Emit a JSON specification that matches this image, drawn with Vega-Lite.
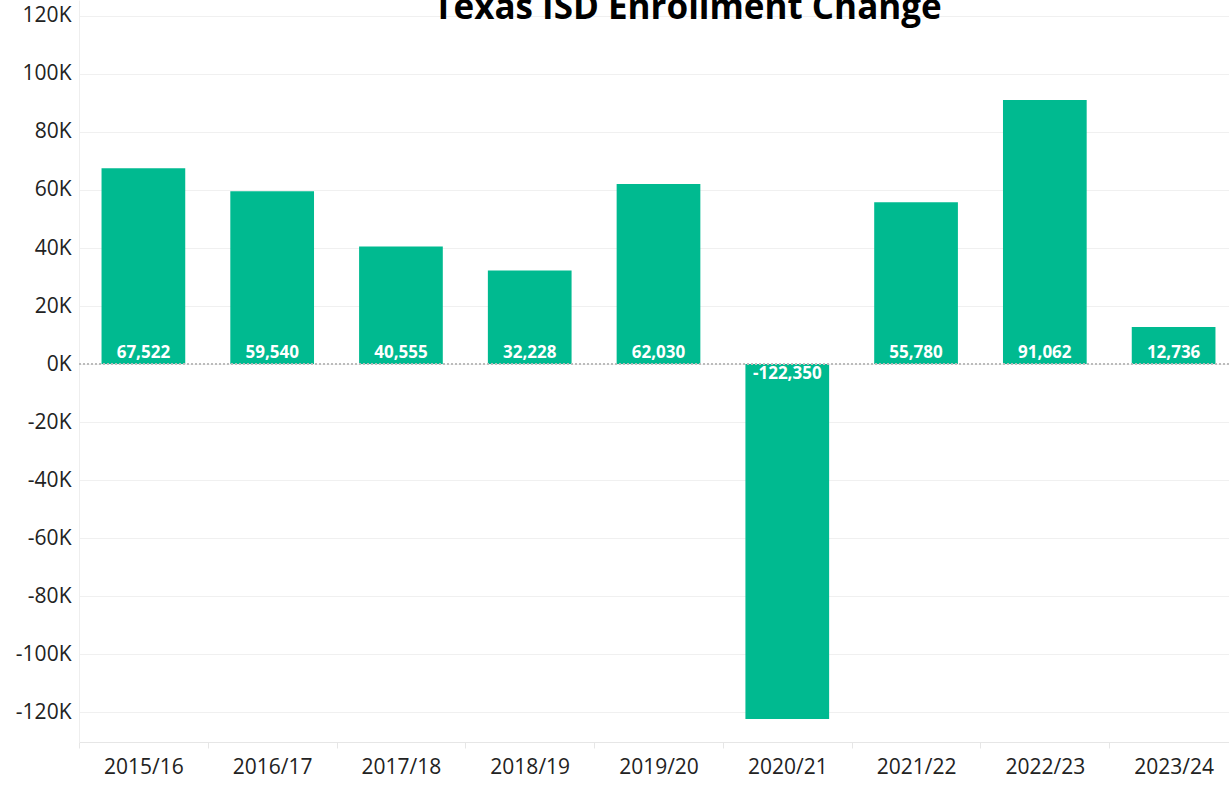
{
  "$schema": "https://vega.github.io/schema/vega-lite/v6.json",
  "width": 1159,
  "height": 742,
  "autosize": {"type": "none"},
  "padding": {"left": 79, "top": 0, "right": 0, "bottom": 43},
  "background": "white",
  "title": {
    "text": "Texas ISD Enrollment Change",
    "font": "Open Sans",
    "fontSize": 35,
    "fontWeight": "bold",
    "color": "#000000",
    "anchor": "middle",
    "frame": "group",
    "baseline": "alphabetic",
    "offset": 0,
    "dx": 29,
    "dy": 54
  },
  "config": {
    "view": {"stroke": null},
    "font": "Open Sans",
    "locale": {"number": {"decimal": ".", "thousands": ",", "grouping": [3], "currency": ["$", ""], "minus": "-"}}
  },
  "data": {
    "values": [
      {"year": "2015/16", "change": 67522},
      {"year": "2016/17", "change": 59540},
      {"year": "2017/18", "change": 40555},
      {"year": "2018/19", "change": 32228},
      {"year": "2019/20", "change": 62030},
      {"year": "2020/21", "change": -122350},
      {"year": "2021/22", "change": 55780},
      {"year": "2022/23", "change": 91062},
      {"year": "2023/24", "change": 12736}
    ]
  },
  "encoding": {
    "x": {
      "field": "year",
      "type": "nominal",
      "sort": null,
      "scale": {"paddingInner": 0.35, "paddingOuter": 0.175},
      "axis": {
        "title": null,
        "labelAngle": 0,
        "labelFont": "Open Sans",
        "labelFontSize": 21,
        "labelColor": "#222222",
        "labelPadding": 8,
        "domainColor": "#e6e6e6",
        "tickColor": "#e6e6e6",
        "tickSize": 6,
        "tickOffset": -64.4,
        "labelOffset": 64.4,
        "grid": false
      }
    }
  },
  "layer": [
    {
      "mark": {"type": "bar", "color": "#00BA90"},
      "encoding": {
        "y": {
          "field": "change",
          "type": "quantitative",
          "scale": {"domain": [-130300, 125500], "nice": false, "zero": false},
          "axis": {
            "title": null,
            "values": [-120000, -100000, -80000, -60000, -40000, -20000, 0, 20000, 40000, 60000, 80000, 100000, 120000],
            "labelExpr": "(datum.value/1000) + 'K'",
            "labelFont": "Open Sans",
            "labelFontSize": 21,
            "labelColor": "#222222",
            "labelPadding": 8,
            "ticks": false,
            "domainColor": "#eeeeee",
            "gridColor": "#f0f0f0",
            "gridWidth": 1
          }
        }
      }
    },
    {
      "mark": {"type": "rule", "color": "#bbbbbb", "strokeDash": [2, 2], "strokeWidth": 1},
      "encoding": {"y": {"datum": 0, "type": "quantitative"}, "x": {"value": 0}, "x2": {"value": 1159}}
    },
    {
      "transform": [{"filter": "datum.change >= 0"}],
      "mark": {"type": "text", "color": "white", "fontWeight": "bold", "fontSize": 17, "font": "Open Sans", "baseline": "bottom", "dy": -2},
      "encoding": {
        "y": {"datum": 0, "type": "quantitative"},
        "text": {"field": "change", "type": "quantitative", "format": ","}
      }
    },
    {
      "transform": [{"filter": "datum.change < 0"}],
      "mark": {"type": "text", "color": "white", "fontWeight": "bold", "fontSize": 17, "font": "Open Sans", "baseline": "top", "dy": 2},
      "encoding": {
        "y": {"datum": 0, "type": "quantitative"},
        "text": {"field": "change", "type": "quantitative", "format": ","}
      }
    }
  ]
}
